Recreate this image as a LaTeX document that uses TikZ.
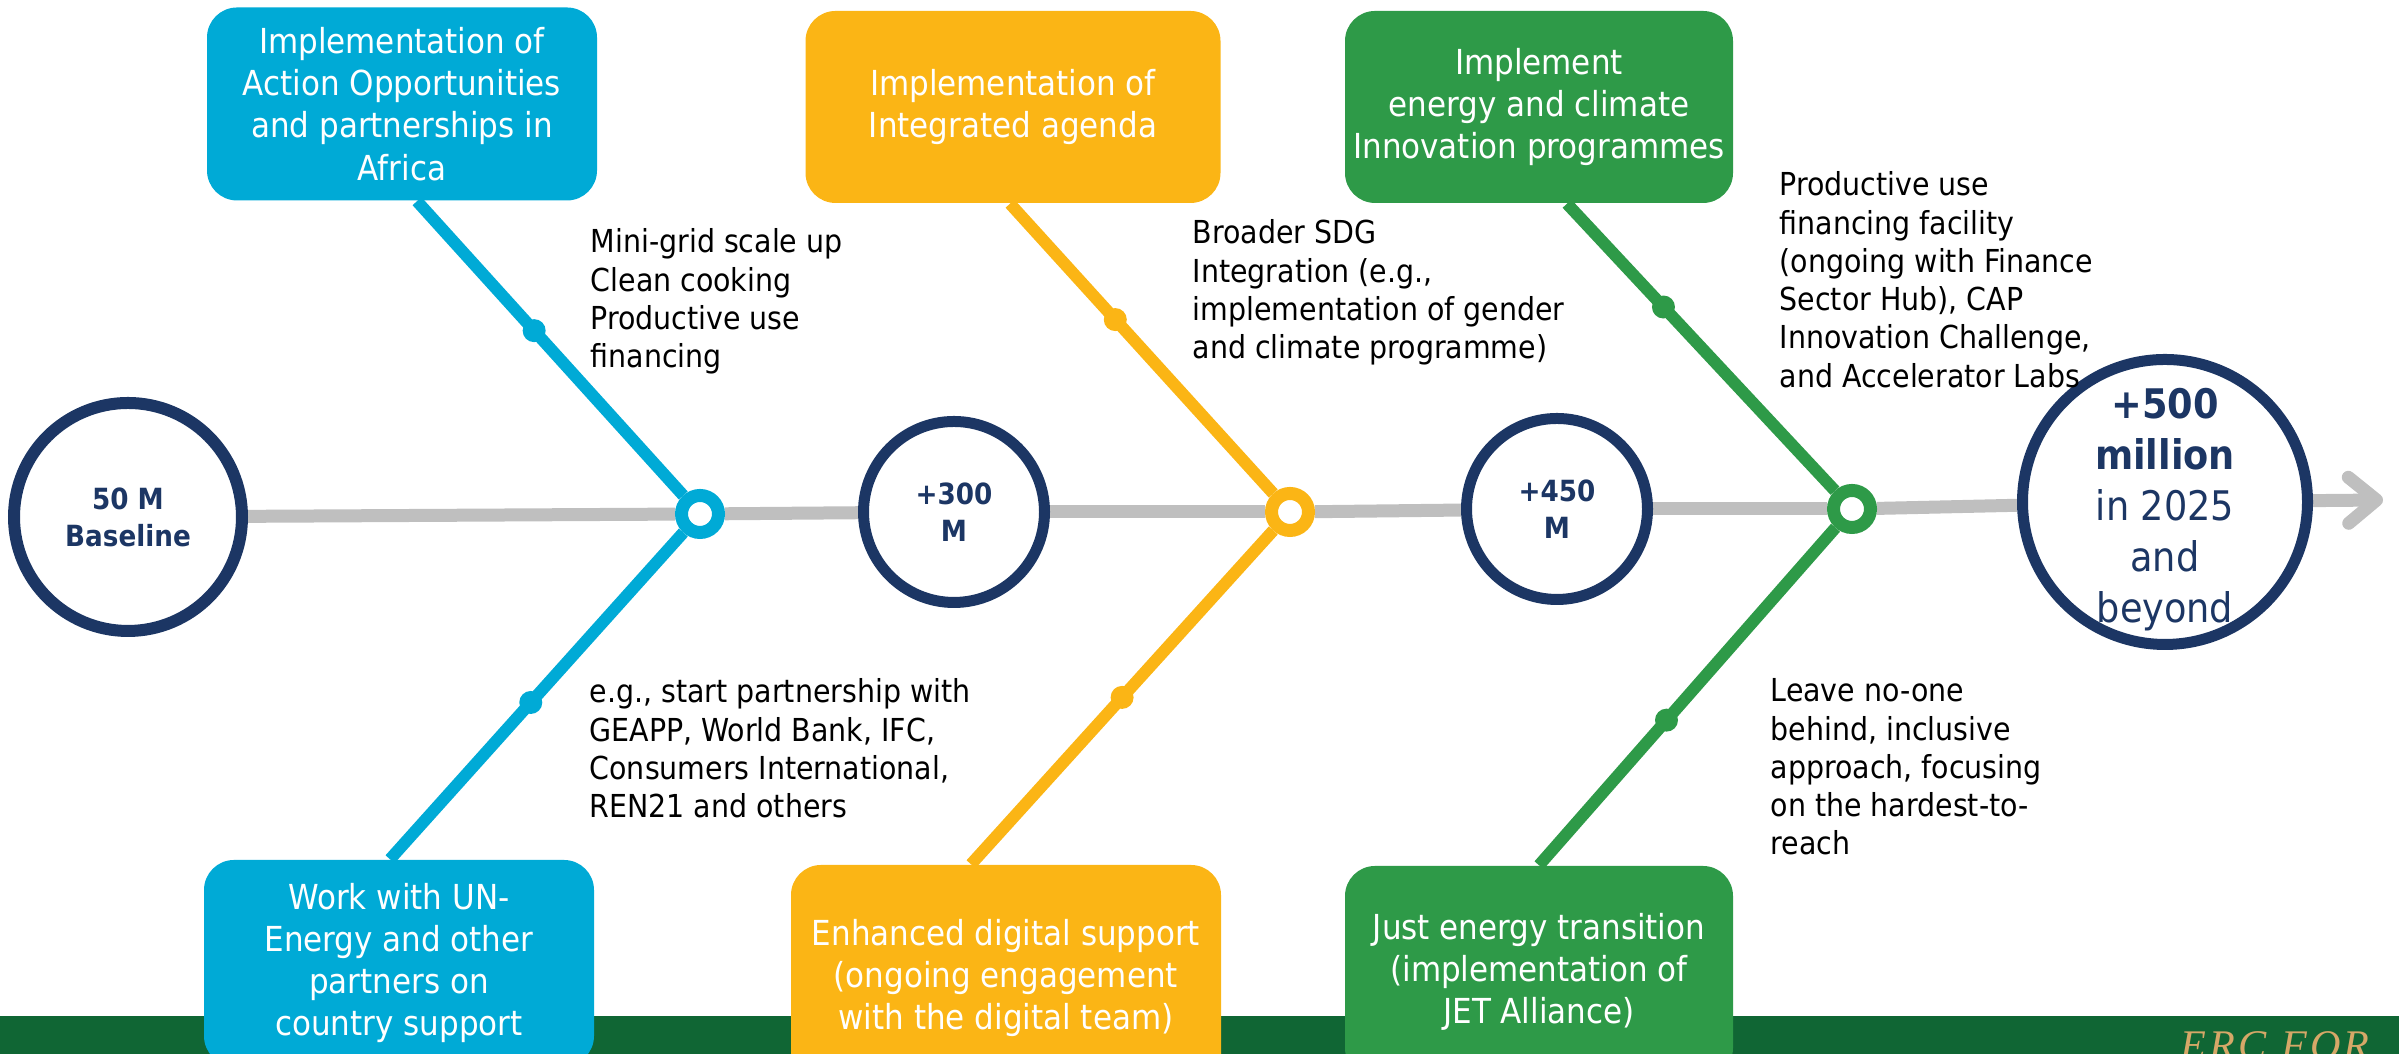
\documentclass[tikz,border=0pt]{standalone}
\usepackage{fontspec}
\setmainfont{DejaVu Sans Condensed}
\newfontfamily\ercfont[LetterSpace=8]{Liberation Serif}
\usetikzlibrary{arrows.meta, backgrounds}

\definecolor{unblue}{HTML}{00AAD6}
\definecolor{unyellow}{HTML}{FBB515}
\definecolor{ungreen}{HTML}{2E9A48}
\definecolor{navy}{HTML}{1C3664}
\definecolor{spinegray}{HTML}{BFBFBF}
\definecolor{banner}{HTML}{106634}
\definecolor{logotan}{HTML}{D6A868}

\begin{document}
\begin{tikzpicture}[x=0.1mm, y=0.1mm,
    box/.style={rectangle, rounded corners=3mm, fill=#1, text=white, align=center, inner sep=0pt, font=\fontsize{9.8}{12}\selectfont},
    goal/.style={circle, draw=navy, line width=1.1mm, fill=white, inner sep=0pt, minimum size=18.1mm, text=navy, align=center, font=\bfseries\fontsize{8.3}{10.5}\selectfont},
    hub/.style={circle, draw=#1, line width=1.3mm, fill=white, minimum size=3.7mm, inner sep=0pt},
    spine/.style={draw=spinegray, line width=1.3mm},
    branch/.style={draw=#1, line width=1.2mm},
    bdot/.style={circle, fill=#1, minimum size=2.3mm, inner sep=0pt},
    note/.style={anchor=north west, align=left, inner sep=0pt, font=\fontsize{9}{10.9}\selectfont}]
    \useasboundingbox (0,0) rectangle (2399,1054);
    \clip (0,0) rectangle (2399,1054);

    \node[goal, minimum size=22.8mm, line width=1.2mm] (base) at (128,537) {50 M\\Baseline};
    \node[hub=unblue] (hubA) at (700,540) {};
    \node[goal] (c300) at (954,542) {+300\\M};
    \node[hub=unyellow] (hubB) at (1290,542) {};
    \node[goal] (c450) at (1557,545) {+450\\M};
    \node[hub=ungreen] (hubC) at (1852,545) {};
    \node[goal, minimum size=28.5mm] (c500) at (2165,552) {};
    \node[text=navy, align=center, font=\fontsize{11.6}{14.5}\selectfont] (c500txt) at (2165,544) {\textbf{+500}\\\textbf{million}\\in 2025\\and\\beyond};
    \coordinate (tip) at (2383,554);

    \node[box=unblue, minimum width=39mm, minimum height=19.3mm] (boxA) at (402,950) {Implementation of\\Action Opportunities\\and partnerships in\\Africa};
    \node[box=unblue, minimum width=39mm, minimum height=20.6mm] (boxB) at (399,91) {Work with UN-\\Energy and other\\partners on\\country support};
    \node[box=unyellow, minimum width=41.5mm, minimum height=19.2mm] (boxC) at (1013,947) {Implementation of\\Integrated agenda};
    \node[box=unyellow, minimum width=43mm, minimum height=22.6mm] (boxD) at (1006,76) {Enhanced digital support\\(ongoing engagement\\with the digital team)};
    \node[box=ungreen, minimum width=38.8mm, minimum height=19.2mm] (boxE) at (1539,947) {Implement\\energy and climate\\Innovation programmes};
    \node[box=ungreen, minimum width=38.8mm, minimum height=21.2mm] (boxF) at (1539,82) {Just energy transition\\(implementation of\\JET Alliance)};

    \node[note] (mini) at (590,826) {Mini-grid scale up\\Clean cooking\\Productive use\\financing};
    \node[note] (partners) at (589,376) {e.g., start partnership with\\GEAPP, World Bank, IFC,\\Consumers International,\\REN21 and others};
    \node[note] (sdg) at (1192,835) {Broader SDG\\Integration (e.g.,\\implementation of gender\\and climate programme)};
    \node[note] (facility) at (1779,883) {Productive use\\financing facility\\(ongoing with Finance\\Sector Hub), CAP\\Innovation Challenge,\\and Accelerator Labs};
    \node[note] (leave) at (1770,376) {Leave no-one\\behind, inclusive\\approach, focusing\\on the hardest-to-\\reach};

    \node[anchor=base west, inner sep=0pt, text=logotan, font=\ercfont\itshape\fontsize{12}{12}\selectfont] (erc) at (2180,-6) {ERC FOR};

    \begin{scope}[on background layer]
        \fill[banner] (0,0) rectangle (2399,38);
        \foreach \a/\b in {base/hubA, hubA/c300, c300/hubB, hubB/c450, c450/hubC, hubC/c500}
            \draw[spine] (\a) -- (\b);
        \draw[spine, -{Straight Barb[length=2.8mm, width=4.6mm, round]}] (c500) -- (tip);

        \draw[branch=unblue] (hubA) -- ([xshift=1.5mm]boxA.south) node[pos=.56, bdot=unblue] (dotA) {};
        \draw[branch=unblue] (hubA) -- ([xshift=-0.9mm]boxB.north) node[pos=.52, bdot=unblue] (dotB) {};
        \draw[branch=unyellow] (hubB) -- ([xshift=-0.3mm]boxC.south) node[pos=.6, bdot=unyellow] (dotC) {};
        \draw[branch=unyellow] (hubB) -- ([xshift=-3.5mm]boxD.north) node[pos=.5, bdot=unyellow] (dotD) {};
        \draw[branch=ungreen] (hubC) -- ([xshift=2.8mm]boxE.south) node[pos=.64, bdot=ungreen] (dotE) {};
        \draw[branch=ungreen] (hubC) -- (boxF.north) node[pos=.57, bdot=ungreen] (dotF) {};
    \end{scope}
\end{tikzpicture}
\end{document}
